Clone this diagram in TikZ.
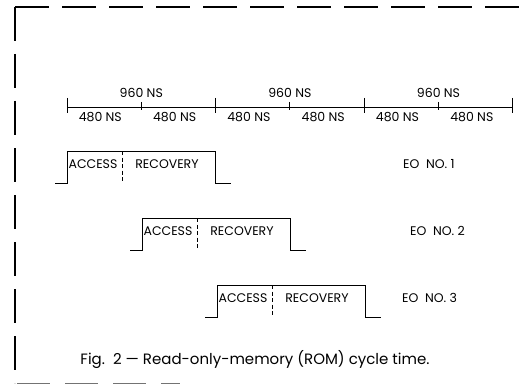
\documentclass[tikz,border=0pt]{standalone}
\usepackage{fontspec}
\setmainfont{Poppins}
\usetikzlibrary{positioning}

\begin{document}
\begin{tikzpicture}[x=1pt, y=-1pt,
    frame/.style={line width=1.5pt, dash pattern=on 34pt off 13pt},
    wave/.style={line width=0.9pt},
    split/.style={line width=0.9pt, dash pattern=on 4pt off 2.5pt},
    lab/.style={font=\fontsize{12.5}{14}\selectfont, inner sep=0pt},
    figcap/.style={font=\fontsize{15}{18}\selectfont, inner sep=0pt},
  ]
  \useasboundingbox (0,0) rectangle (532,385);
  % frame round the figure
  \draw[frame] (15,7) -- (532,7);
  \draw[frame] (15,7) -- (15,383);
  \draw[line width=0.8pt, black!55, dash pattern=on 33pt off 15pt] (17,383) -- (180,383);

  % time axis
  \foreach \k in {0,...,6}
    \coordinate (t\k) at ({67+74.3*\k},107);
  \draw[wave] (t0) -- (t6);
  \foreach \k in {0,2,4,6}
    \draw[wave] (t\k) ++(0,-9) -- ++(0,15);
  \foreach \k in {1,3,5}
    \draw[wave] (t\k) ++(0,-5) -- ++(0,8);
  \foreach \k in {1,3,5}
    \node[lab, above=9pt of t\k] (w\k) {960 NS};
  \foreach \k in {1,...,6}
    \node[lab] (h\k) at ({67+74.3*\k-41},117) {480 NS};

  % one pulse for each EO
  \foreach \i/\x/\y/\e in {1/67/151/403, 2/142/218/410, 3/217/285/402}{
    \draw[wave] ({\x-12},{\y+32}) -- (\x,{\y+32}) -- (\x,\y) -- ({\x+148},\y)
      -- ({\x+148},{\y+32}) -- ({\x+164},{\y+32});
    \draw[split] ({\x+55},\y) -- ({\x+55},{\y+32});
    \node[lab] (acc\i) at ({\x+26},{\y+13}) {ACCESS};
    \node[lab] (rec\i) at ({\x+100},{\y+13}) {RECOVERY};
    \node[lab, anchor=west] (eo\i) at (\e,{\y+13}) {EO\ \ NO.\ \i};
  }

  \node[figcap] (title) at (255,360) {Fig.\ \ 2 --- Read-only-memory (ROM) cycle time.};
\end{tikzpicture}
\end{document}
